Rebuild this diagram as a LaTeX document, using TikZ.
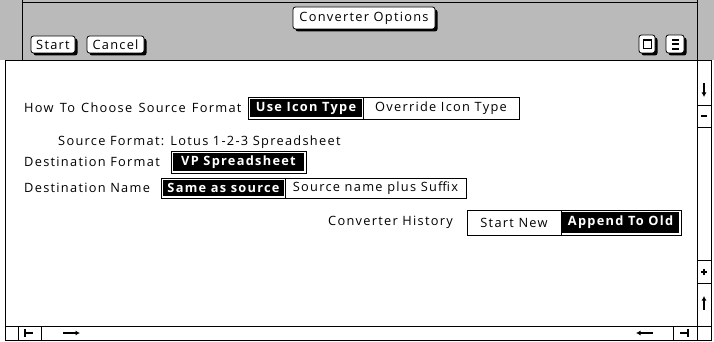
\documentclass[tikz,border=0pt]{standalone}
\usepackage{fontspec}
\setmainfont{Open Sans}[LetterSpace=10]
\usetikzlibrary{arrows.meta}
\tikzset{
	lbl/.style={inner sep=0pt, anchor=west, font=\fontsize{12.8}{14}\selectfont},
	offlbl/.style={inner sep=0pt, font=\fontsize{12.8}{14}\selectfont},
	onlbl/.style={inner sep=0pt, text=white, font=\bfseries\fontsize{12.8}{14}\selectfont},
	glyph/.style={line width=1.3pt},
}
\def\starbutton(#1,#2)(#3,#4){\fill[black, rounded corners=2.5pt] (#1+2.5,#2+2.5) rectangle (#3+2.5,#4+2.5); \draw[line width=0.8pt, fill=white, rounded corners=2.5pt] (#1,#2) rectangle (#3,#4);}

\begin{document}
\begin{tikzpicture}[x=1pt, y=-1pt]
			%%%%% START %%%%%
			\useasboundingbox (0, 0) rectangle (714, 342);
			
			% title bar
			\fill[black!27] (0, 0) rectangle (714, 60);
			\draw[line width=0.8pt] (22, 2) -- (697, 2);
			\draw[line width=0.8pt] (22, 0) -- (22, 60);
			
			\starbutton(293, 7)(435, 29)
			\node[offlbl] (title) at (364, 18) {Converter Options};
			
			\starbutton(31, 36)(75, 53)
			\node[offlbl] (start) at (53, 45) {Start};
			\starbutton(87, 36)(144, 53)
			\node[offlbl] (cancel) at (115.5, 45) {Cancel};
			
			\starbutton(639, 35)(655, 53)
			\draw[line width=1pt, fill=white] (643, 40) rectangle (651, 49);
			\draw[line width=2pt] (643, 40.5) -- (651, 40.5);
			\starbutton(666, 35)(684, 53)
			\foreach \y in {40, 44.5, 49}
				\draw[line width=2pt] (672, \y) -- (679, \y);
			
			% window frame
			\draw[line width=0.8pt] (5, 60) rectangle (711, 340);
			\draw[line width=0.8pt] (697, 0) -- (697, 340);
			
			% right scroll bar
			\draw[line width=0.6pt] (697, 105) -- (711, 105);
			\draw[line width=0.6pt] (697, 127) -- (711, 127);
			\draw[line width=0.6pt] (697, 260) -- (711, 260);
			\draw[line width=0.6pt] (697, 283) -- (711, 283);
			\draw[glyph, -{Latex[length=4.5pt, width=5pt]}] (704, 83) -- (704, 97);
			\draw[line width=1.8pt] (701, 116) -- (707, 116);
			\draw[line width=1.8pt] (701, 272) -- (707, 272);
			\draw[line width=1.8pt] (704, 269) -- (704, 275);
			\draw[glyph, -{Latex[length=4.5pt, width=5pt]}] (704, 310) -- (704, 296);
			
			% bottom scroll bar
			\draw[line width=0.8pt] (5, 326) -- (711, 326);
			\draw[line width=0.6pt] (18, 326) -- (18, 340);
			\draw[line width=0.6pt] (41, 326) -- (41, 340);
			\draw[line width=0.6pt] (673, 326) -- (673, 340);
			\draw[line width=1.8pt] (25, 329) -- (25, 337);
			\draw[line width=1.8pt] (25, 333) -- (33, 333);
			\draw[glyph, -{Latex[length=4.5pt, width=5pt]}] (63, 333) -- (80, 333);
			\draw[glyph, -{Latex[length=4.5pt, width=5pt]}] (653, 333) -- (636, 333);
			\draw[line width=1.8pt] (680, 333) -- (688, 333);
			\draw[line width=1.8pt] (688, 329) -- (688, 337);
			
			% option rows
			\node[lbl] (howto) at (24, 108) {\spaceskip=6.2pt\relax How To Choose Source Format};
			\draw[line width=0.6pt] (248, 97) rectangle (519, 119);
			\draw[line width=0.6pt] (363, 97) -- (363, 119);
			\fill[black] (250, 99) rectangle (362, 117);
			\node[onlbl] (useicon) at (306, 108) {Use Icon Type};
			\node[offlbl] (override) at (441, 108) {Override Icon Type};
			
			\node[lbl] (srcfmt) at (58, 142) {Source Format: Lotus 1-2-3 Spreadsheet};
			
			\node[lbl] (destfmt) at (24, 162) {Destination Format};
			\draw[line width=0.6pt] (171, 151) rectangle (306, 173);
			\fill[black] (173, 153) rectangle (304, 171);
			\node[onlbl] (vpsheet) at (238.5, 162) {VP Spreadsheet};
			
			\node[lbl] (destname) at (24, 188) {Destination Name};
			\draw[line width=0.6pt] (161, 178) rectangle (466, 198);
			\draw[line width=0.6pt] (285, 178) -- (285, 198);
			\fill[black] (163, 180) rectangle (284, 196);
			\node[onlbl] (sameas) at (223.5, 188) {Same as source};
			\node[offlbl] (plussuffix) at (375.5, 188) {Source name plus Suffix};
			
			\node[lbl, anchor=east] (history) at (453, 222) {Converter History};
			\draw[line width=0.6pt] (467, 210) rectangle (681, 235);
			\draw[line width=0.6pt] (561, 210) -- (561, 235);
			\fill[black] (562, 212) rectangle (679, 233);
			\node[offlbl] (startnew) at (514, 222.5) {Start New};
			\node[onlbl] (append) at (620.5, 222.5) {Append To Old};
			
			%%%%% END %%%%%
\end{tikzpicture}
\end{document}
